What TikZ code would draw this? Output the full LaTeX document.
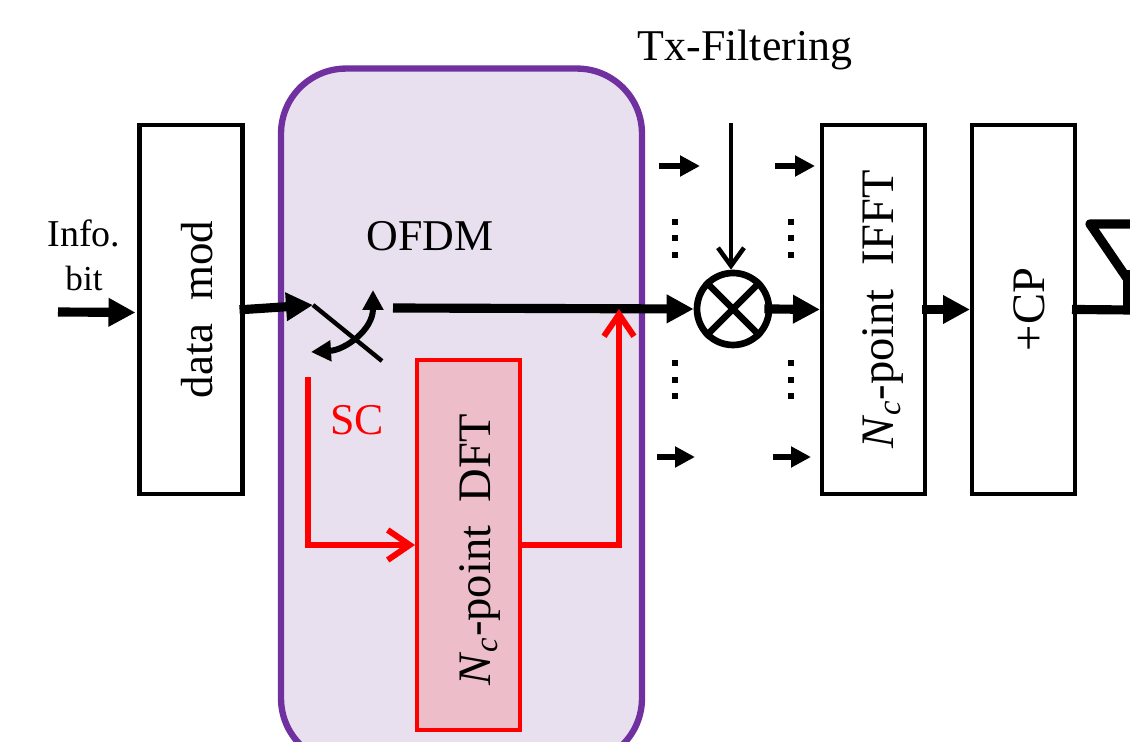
\documentclass[tikz,border=0pt]{standalone}
\usepackage{fontspec}
\usepackage{amsmath}
\usepackage{xcolor}
\setmainfont{Liberation Serif}
\usetikzlibrary{arrows.meta}
\usetikzlibrary{positioning}
\definecolor{ofdmfill}{HTML}{E9E0EF}
\definecolor{ofdmline}{HTML}{7030A0}
\definecolor{dftfill}{HTML}{EDBDCA}
\newcommand{\uptext}[2][0.45cm]{\rotatebox{90}{\raisebox{-#1}[0pt][0pt]{#2}}}

\begin{document}
\begin{tikzpicture}[x=0.02cm, y=-0.02cm,
        lbl/.style={font=\fontsize{25pt}{28pt}\selectfont, inner sep=0pt},
        smalllbl/.style={font=\fontsize{21.6pt}{24pt}\selectfont, inner sep=0pt},
        blockbox/.style={draw=black, fill=white, line width=2.3pt, minimum width=2.06cm, minimum height=7.4cm, inner sep=0pt, font=\fontsize{26.5pt}{28pt}\selectfont},
        thickarrow/.style={line width=5.2pt, -{Triangle[length=0.54cm, width=0.54cm]}},
        smallarrow/.style={line width=3.4pt, -{Triangle[length=0.4cm, width=0.4cm]}},
        thinarrow/.style={line width=2.6pt, -{Straight Barb[length=0.36cm, width=0.52cm]}},
        redarrow/.style={draw=red, line width=3.4pt, -{Straight Barb[length=0.44cm, width=0.6cm]}},
        vdot/.style={fill=black, minimum size=0.13cm, inner sep=0pt}
    ]
        \useasboundingbox (0,0) rectangle (1130,742);
        \clip (0,0) rectangle (1130,742);

        \node[draw=ofdmline, fill=ofdmfill, line width=3.6pt, rounded corners=1.3cm, minimum width=7.22cm, minimum height=13.9cm] (ofdm) at (461.5,416) {};

        \node[blockbox, font=\fontsize{25.6pt}{28pt}\selectfont] (datamod) at (191,309.5) {\uptext[0.43cm]{data\ \ mod}};
        \node[blockbox] (ifft) at (873.5,309.5) {\uptext[0.40cm]{\textit{N}\textsubscript{\textit{c}}-point\ \ IFFT}};
        \node[blockbox] (cp) at (1023.5,309.5) {\uptext[0.42cm]{+CP}};
        \node[blockbox, draw=red, fill=dftfill] (dft) at (468.5,545) {\uptext[0.44cm]{\textit{N}\textsubscript{\textit{c}}-point\ \ DFT\hspace{0.2cm}}};
        \node[draw=black, circle, line width=3.8pt, minimum size=1.44cm, inner sep=0pt] (mixer) at (733,309) {};
        \draw[line width=3.8pt] (mixer.45) -- (mixer.225);
        \draw[line width=3.8pt] (mixer.135) -- (mixer.-45);

        \node[smalllbl] (info) at (84,233) {Info.};
        \node[smalllbl, font=\fontsize{20pt}{24pt}\selectfont, below=0.88cm of info.base, anchor=base] (bit) {bit};
        \node[lbl] (ofdmlabel) at (430,236) {OFDM};
        \node[lbl, text=red] (sclabel) at (357,420) {SC};
        \node[lbl] (txlabel) at (745,50) {Tx-Filtering};

        \coordinate (infoin) at (58,312);
        \coordinate (swin) at (313,305);
        \coordinate (swend) at (382,361);
        \coordinate (swout) at (393,308);
        \coordinate (arca) at (373,290);
        \coordinate (arcb) at (311,352);
        \coordinate (sctop) at (308,377);
        \coordinate (sccorner) at (308,545);
        \coordinate (dftcorner) at (619,545);
        \coordinate (dftjoin) at (619,309);
        \coordinate (txtop) at (731,123);
        \coordinate (cpout) at (1130,310);

        \draw[thickarrow, shorten >=0.04cm] (infoin) -- ([yshift=-0.06cm]datamod.west);
        \draw[thickarrow, shorten <=-0.1cm] (datamod.east) -- (swin);
        \draw[line width=2.5pt] (swin) -- (swend);
        \draw[line width=3.4pt, {Triangle[length=0.4cm, width=0.4cm]}-{Triangle[length=0.4cm, width=0.4cm]}] (arca) .. controls (373,330) and (345,350) .. (arcb);
        \draw[thickarrow] (swout) -- (mixer.west);
        \draw[thickarrow, shorten <=-0.16cm] (mixer.east) -- (ifft.west);
        \draw[thickarrow, shorten <=-0.1cm] (ifft.east) -- (cp.west);
        \draw[thinarrow] (txtop) -- (mixer.north -| txtop);

        \foreach \xa/\xb/\yy [count=\i] in {659/700/166, 775/815/166, 657/695/457, 773/811/457}{
            \coordinate (sa\i) at (\xa,\yy);
            \coordinate (sb\i) at (\xb,\yy);
            \draw[smallarrow] (sa\i) -- (sb\i);
        }
        \foreach \xx in {675,791}{
            \foreach \yy in {222,238,255,363,380,396}{
                \node[vdot] at (\xx,\yy) {};
            }
        }

        \draw[redarrow] (sctop) -- (sccorner) -- (dft.west);
        \draw[redarrow] (dft.east) -- (dftcorner) -- (dftjoin);

        \draw[line width=5.2pt, shorten <=-0.1cm] (cp.east) -- (cpout);
        \draw[line width=5.2pt, line join=round] (1135,224) -- (1090,224) -- (1135,290);
        \draw[line width=5.2pt] (1128,270) -- (1128,310);
    \end{tikzpicture}
\end{document}
